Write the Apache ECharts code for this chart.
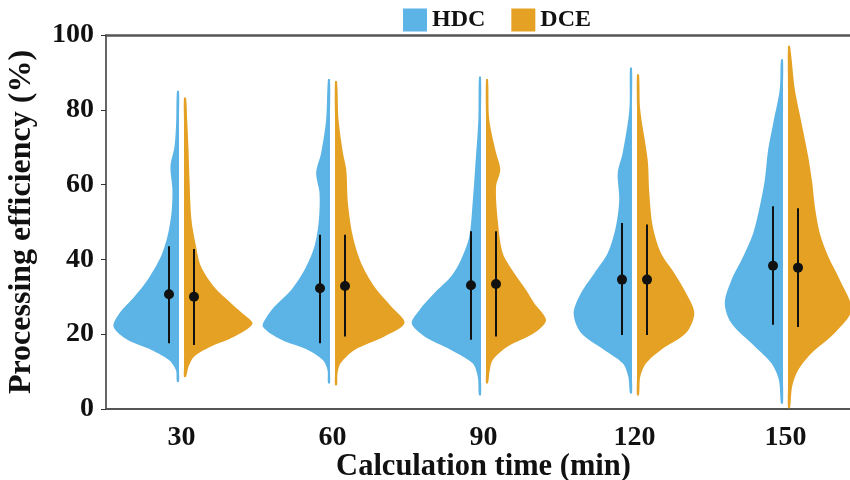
<!DOCTYPE html>
<html>
<head>
<meta charset="utf-8">
<script src="https://cdn.jsdelivr.net/npm/echarts@6/dist/echarts.min.js"></script>
<style>
  html, body { margin: 0; padding: 0; background: #fff; }
  #chart { width: 850px; height: 480px; }
</style>
</head>
<body>
<div id="chart"></div>
<script>
// Calculation times (min) on the category axis
const categories = ['30', '60', '90', '120', '150'];
const yTicks = [0, 20, 40, 60, 80, 100];

// Half-violin density profiles: [efficiency %, density as fraction of band width]
const hdcProfiles = [
  [[7.3,0.03],[10.4,0.037],[13.1,0.083],[15.8,0.199],[18.5,0.358],[22,0.45],[25.6,0.411],[30.1,0.311],[34.5,0.225],[40.8,0.136],[46.1,0.093],[52.5,0.066],[58.6,0.06],[64.9,0.073],[70.2,0.046],[77,0.035],[85,0.03]],
  [[6.9,0.03],[10.4,0.033],[13.1,0.064],[15.8,0.163],[18.5,0.338],[22,0.461],[24.5,0.437],[27.4,0.384],[31.9,0.272],[37.2,0.185],[43.5,0.119],[50.6,0.09],[57.8,0.086],[63.1,0.108],[68.5,0.075],[77.4,0.042],[88.1,0.03]],
  [[3.7,0.03],[8.6,0.038],[12.2,0.072],[15.8,0.215],[19.4,0.391],[22.9,0.475],[26.5,0.424],[31,0.325],[35.4,0.215],[39.9,0.149],[46.1,0.094],[55.1,0.072],[64,0.056],[77.4,0.034],[88.8,0.03]],
  [[4.2,0.03],[8.6,0.041],[12.2,0.078],[15.8,0.2],[20.3,0.354],[25.6,0.403],[31,0.354],[36.3,0.266],[41.7,0.177],[48.8,0.123],[56,0.101],[63.1,0.111],[68.5,0.078],[80,0.034],[91.2,0.03]],
  [[1.5,0.03],[7.8,0.044],[12.2,0.093],[16.7,0.203],[22.9,0.358],[28.3,0.402],[34.5,0.358],[40.8,0.28],[47,0.214],[54.2,0.17],[61.3,0.137],[69.3,0.115],[76.5,0.081],[85.4,0.038],[93.4,0.03]]
];
const dceProfiles = [
  [[8.6,0.03],[11.3,0.046],[14,0.083],[16.7,0.195],[19.4,0.351],[22.8,0.47],[25.8,0.397],[28.3,0.328],[32.7,0.215],[38.1,0.129],[43.5,0.096],[50.6,0.066],[61.3,0.053],[70,0.046],[77,0.038],[83.2,0.03]],
  [[6.4,0.03],[9.5,0.033],[12.2,0.053],[15.8,0.146],[19.4,0.344],[23,0.477],[27.4,0.389],[32.7,0.278],[39,0.19],[46.1,0.135],[55.1,0.102],[64,0.091],[68.5,0.069],[77.4,0.04],[87.6,0.03]],
  [[6.9,0.03],[10,0.04],[13.1,0.061],[16.7,0.16],[20.3,0.336],[23.8,0.414],[28.3,0.336],[31.9,0.281],[36.3,0.204],[41.7,0.127],[50.6,0.094],[59.5,0.083],[64,0.111],[68.5,0.083],[77.4,0.038],[88.1,0.03]],
  [[3.7,0.03],[8.6,0.038],[12.2,0.076],[15.8,0.175],[20.3,0.341],[25.6,0.396],[31,0.341],[36.3,0.264],[41.7,0.175],[48.8,0.121],[57.8,0.098],[66.7,0.087],[80,0.038],[89.4,0.03]],
  [[0.3,0.03],[6,0.044],[10.4,0.084],[14.9,0.172],[20.3,0.326],[26.5,0.437],[34.5,0.36],[40.8,0.283],[47,0.227],[54.2,0.194],[60.4,0.177],[67.6,0.15],[76.5,0.106],[85.4,0.062],[97,0.03]]
];

// Mean and spread lines for each group
const hdcLow  = [17.6, 17.6, 18.5, 19.8, 22.5];
const hdcMean = [30.7, 32.3, 33.1, 34.6, 38.3];
const hdcHigh = [43.5, 46.6, 47.5, 49.7, 54.2];
const dceLow  = [17.1, 19.4, 19.4, 19.8, 21.9];
const dceMean = [30.0, 32.9, 33.4, 34.6, 37.8];
const dceHigh = [42.8, 46.6, 47.5, 49.3, 53.7];

const BLUE = '#5BB4E5';
const ORANGE = '#E5A124';
const FONT = "'Liberation Serif', 'Times New Roman', serif";
const GAP = 2.5;          // half gap between the two halves (px)
const WHISKER_OFFSET = 12.5;

function violinRenderer(profiles, side) {
  return function (params, api) {
    const idx = api.value(0);
    const prof = profiles[idx];
    const band = api.size([1, 0])[0];
    const cx = api.coord([idx, 0])[0];
    const outer = [], inner = [];
    prof.forEach(function (p) {
      const y = api.coord([idx, p[0]])[1];
      outer.push([cx + side * p[1] * band, y]);
      inner.push([cx + side * GAP, y]);
    });
    const pts = outer.concat(inner.reverse());
    return {
      type: 'polygon',
      shape: { points: pts, smooth: 0.3 },
      style: { fill: api.visual('color') }
    };
  };
}

function whiskerRenderer(side) {
  return function (params, api) {
    const idx = api.value(0);
    const cx = api.coord([idx, 0])[0] + side * WHISKER_OFFSET;
    const yLow = api.coord([idx, api.value(1)])[1];
    const yMean = api.coord([idx, api.value(2)])[1];
    const yHigh = api.coord([idx, api.value(3)])[1];
    return {
      type: 'group',
      children: [
        { type: 'line', shape: { x1: cx, y1: yLow, x2: cx, y2: yHigh },
          style: { stroke: '#111', lineWidth: 2 } },
        { type: 'circle', shape: { cx: cx, cy: yMean, r: 5 },
          style: { fill: '#111' } }
      ]
    };
  };
}

const chart = echarts.init(document.getElementById('chart'), null, { renderer: 'canvas' });

chart.setOption({
  animation: false,
  backgroundColor: '#fff',
  legend: {
    data: ['HDC', 'DCE'],
    left: 398,
    top: 3,
    icon: 'rect',
    itemWidth: 24,
    itemHeight: 23,
    itemGap: 26,
    textStyle: { fontFamily: FONT, fontWeight: 'bold', fontSize: 24, color: '#111' }
  },
  grid: { left: 106, top: 35, bottom: 71, width: 755, containLabel: false, outerBoundsMode: 'none' },
  xAxis: [{
    type: 'category',
    data: categories,
    name: 'Calculation time (min)',
    nameLocation: 'middle',
    nameGap: 43,
    nameMoveOverlap: false,
    nameTextStyle: { fontFamily: FONT, fontWeight: 'bold', fontSize: 30.5, color: '#111' },
    axisLine: { lineStyle: { color: '#555', width: 2 } },
    axisTick: { alignWithLabel: true, length: 5, lineStyle: { color: '#555' } },
    axisLabel: { fontFamily: FONT, fontWeight: 'bold', fontSize: 28, color: '#111', margin: 15 },
    splitLine: { show: false }
  }, {
    type: 'category',
    data: categories,
    position: 'top',
    axisLine: { show: true, lineStyle: { color: '#555', width: 2.5 } },
    axisTick: { show: false },
    axisLabel: { show: false }
  }],
  yAxis: {
    type: 'value',
    min: yTicks[0],
    max: yTicks[yTicks.length - 1],
    interval: 20,
    name: 'Processing efficiency (%)',
    nameLocation: 'middle',
    nameGap: 68,
    nameMoveOverlap: false,
    nameTextStyle: { fontFamily: FONT, fontWeight: 'bold', fontSize: 32, color: '#111' },
    axisLine: { show: true, lineStyle: { color: '#333', width: 1.5 } },
    axisTick: { show: true, length: 5, lineStyle: { color: '#333' } },
    axisLabel: { fontFamily: FONT, fontWeight: 'bold', fontSize: 28, color: '#111', margin: 12 },
    splitLine: { show: false }
  },
  series: [
    {
      name: 'HDC', type: 'custom', xAxisIndex: 0,
      itemStyle: { color: BLUE },
      renderItem: violinRenderer(hdcProfiles, -1),
      encode: { x: 0, y: 1 },
      data: categories.map(function (c, i) { return [i, hdcMean[i]]; })
    },
    {
      name: 'DCE', type: 'custom', xAxisIndex: 0,
      itemStyle: { color: ORANGE },
      renderItem: violinRenderer(dceProfiles, 1),
      encode: { x: 0, y: 1 },
      data: categories.map(function (c, i) { return [i, dceMean[i]]; })
    },
    {
      name: 'HDC spread', type: 'custom', xAxisIndex: 0,
      renderItem: whiskerRenderer(-1),
      encode: { x: 0, y: [1, 2, 3] },
      data: categories.map(function (c, i) { return [i, hdcLow[i], hdcMean[i], hdcHigh[i]]; }),
      z: 5
    },
    {
      name: 'DCE spread', type: 'custom', xAxisIndex: 0,
      renderItem: whiskerRenderer(1),
      encode: { x: 0, y: [1, 2, 3] },
      data: categories.map(function (c, i) { return [i, dceLow[i], dceMean[i], dceHigh[i]]; }),
      z: 5
    }
  ]
});
</script>
</body>
</html>
